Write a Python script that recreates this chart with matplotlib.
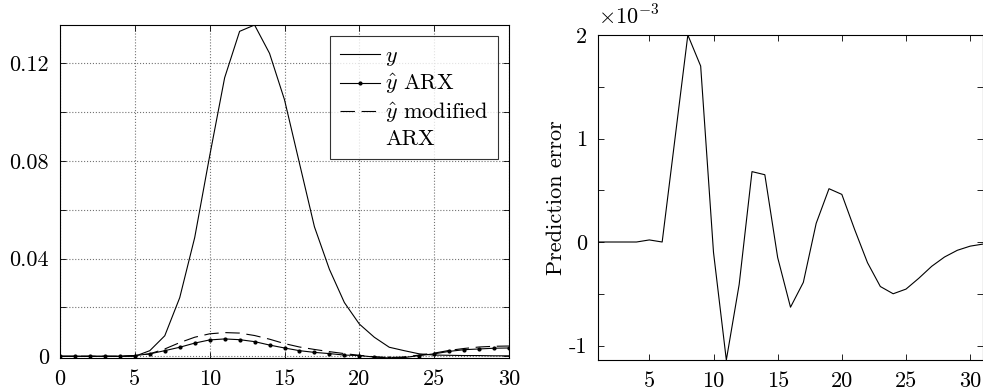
import numpy as np
import matplotlib
matplotlib.use("Agg")
import matplotlib.pyplot as plt
from matplotlib.lines import Line2D

plt.rcParams['font.family'] = 'serif'
plt.rcParams['font.serif'] = ['cmr10', 'DejaVu Serif']
plt.rcParams['mathtext.fontset'] = 'cm'
plt.rcParams['axes.unicode_minus'] = False
plt.rcParams['font.size'] = 16

# output and the two one-step predictions
k = np.arange(0, 31)
y = [0, 0, 0, 0, 0, 0, 0.0023, 0.0084, 0.024, 0.0486, 0.082, 0.114, 0.133, 0.1356,
     0.124, 0.105, 0.079, 0.053, 0.0356, 0.022, 0.0132, 0.0078, 0.0037, 0.0023,
     0.001, 0.0005, 0.0004, 0.0003, 0.0003, 0.0002, 0.0002]
y_arx = [0, 0, 0, 0, 0, 0.0003, 0.001, 0.0023, 0.0037, 0.0054, 0.0067, 0.0071, 0.0068,
         0.006, 0.0046, 0.0034, 0.0023, 0.0016, 0.0011, 0.0005, 0.0003, -0.0003,
         -0.0007, -0.0005, 0.0003, 0.001, 0.002, 0.0027, 0.003, 0.0033, 0.0034]
y_mod = [0, 0, 0, 0, 0, 0.0003, 0.001, 0.003, 0.0056, 0.0078, 0.0092, 0.0097, 0.0095,
         0.0085, 0.007, 0.0052, 0.0038, 0.0028, 0.0019, 0.0011, 0.0004, -0.0002,
         -0.0005, -0.0003, 0.0005, 0.0013, 0.0024, 0.0032, 0.0038, 0.0041, 0.0042]

# prediction error (x 1e-3)
k_err = np.arange(1, 32)
err = [0, 0, 0, 0, 0.02, 0, 1.0, 2.0, 1.70, -0.1, -1.14, -0.41, 0.68, 0.65, -0.15,
       -0.63, -0.39, 0.18, 0.515, 0.46, 0.12, -0.2, -0.43, -0.50, -0.455, -0.35,
       -0.235, -0.145, -0.08, -0.04, -0.02]

W, H = 983, 391
fig = plt.figure(figsize=(W / 100, H / 100), dpi=100)

ax1 = fig.add_axes([60 / W, 1 - 358 / H, 449 / W, 333 / H])
l1, = ax1.plot(k, y, 'k-', lw=0.8)
l2, = ax1.plot(k, y_arx, 'k-', lw=0.8, marker='.', ms=4)
l3, = ax1.plot(k, y_mod, 'k--', lw=0.8, dashes=(13, 6))
ax1.set_xlim(0, 30)
ax1.set_ylim(min(y_arx), max(y))
ax1.set_xticks(range(0, 31, 5))
ax1.set_yticks(np.arange(0, 0.13, 0.02))
ax1.set_yticklabels(['0', '', '0.04', '', '0.08', '', '0.12'])
ax1.grid(True, ls=':', color='0.45', lw=0.8)
ax1.tick_params(direction='in', top=True, right=True, length=4, width=0.6, pad=8)

# second line of the last label goes in as an entry with a blank handle
blank = Line2D([], [], color='none')
leg = ax1.legend([l1, l2, l3, blank],
                 ['$y$', r'$\hat{y}$ ARX', r'$\hat{y}$ modified', 'ARX'],
                 loc='upper right', frameon=True, fancybox=False, edgecolor='k',
                 handlelength=1.8, borderaxespad=0.5, labelspacing=0.2,
                 handletextpad=0.2, borderpad=0.45, fontsize=16)
leg.get_frame().set_linewidth(0.8)

ax2 = fig.add_axes([598 / W, 1 - 360 / H, 385 / W, 325 / H])
ax2.plot(k_err, err, 'k-', lw=0.8)
ax2.set_xlim(1, 31)
ax2.set_ylim(min(err), max(err))
ax2.set_xticks(range(5, 31, 5))
ax2.set_yticks(np.arange(-1, 2.01, 0.5))
ax2.set_yticklabels(['-1', '', '0', '', '1', '', '2'])
ax2.tick_params(direction='in', top=True, right=True, length=4, width=0.6, pad=8)
ax2.set_ylabel('Prediction error', labelpad=2)
ax2.text(0.0, 1.02, r'$\times 10^{-3}$', transform=ax2.transAxes, ha='left', va='bottom')

for ax in (ax1, ax2):
    for s in ax.spines.values():
        s.set_linewidth(0.8)

fig.savefig('out.png', dpi=100)
